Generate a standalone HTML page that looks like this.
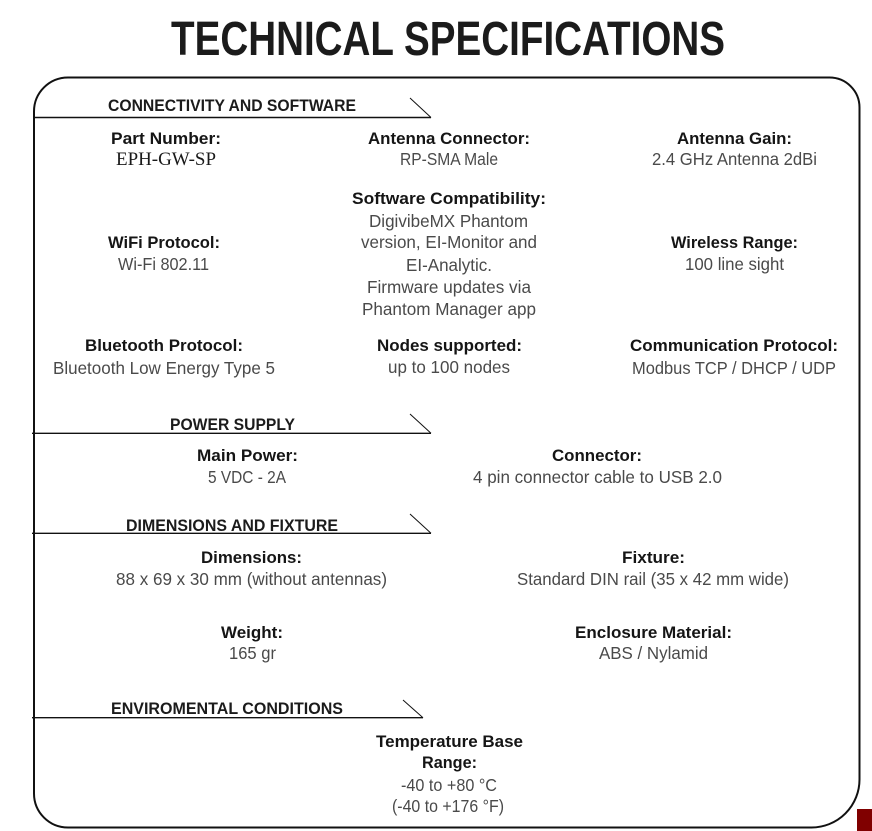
<!DOCTYPE html>
<html>
<head>
<meta charset="utf-8">
<style>
  html, body { margin:0; padding:0; background:#fff; }
  body { width:872px; height:831px; overflow:hidden; position:relative; }
  svg { position:absolute; left:0; top:0; }
  .t { font-family:"Liberation Sans", Arial, sans-serif; font-weight:bold; font-size:48px; fill:#1b1b1b; }
  .h { font-family:"Liberation Sans", Arial, sans-serif; font-weight:bold; font-size:17px; fill:#1b1b1b; }
  .l { font-family:"Liberation Sans", Arial, sans-serif; font-weight:bold; font-size:17px; fill:#151515; }
  .v { font-family:"Liberation Sans", Arial, sans-serif; font-weight:normal; font-size:17.5px; fill:#4a4a4a; }
  .s { font-family:"Liberation Serif", "Times New Roman", serif; font-weight:normal; font-size:18.5px; fill:#1a1a1a; }
</style>
</head>
<body>
<svg width="872" height="831" viewBox="0 0 872 831" xmlns="http://www.w3.org/2000/svg">
  <rect x="0" y="0" width="872" height="831" fill="#ffffff"/>

  <!-- Title -->
  <text class="t" x="171" y="55" textLength="554" lengthAdjust="spacingAndGlyphs">TECHNICAL SPECIFICATIONS</text>

  <!-- Main rounded box -->
  <path d="M 68 77.5 L 829.5 77.5 A 30 30 0 0 1 859.5 107.5 L 859.5 779.5 A 48 48 0 0 1 811.5 827.5 L 68 827.5 A 34 34 0 0 1 34 793.5 L 34 111.5 A 34 34 0 0 1 68 77.5 Z"
        fill="none" stroke="#111" stroke-width="2"/>

  <!-- Red square -->
  <rect x="857" y="809" width="15" height="22" fill="#800000"/>

  <!-- Section lines -->
  <g stroke="#111" fill="none">
    <line x1="33" y1="117.5" x2="431" y2="117.5" stroke-width="1.4"/>
    <line x1="410" y1="98" x2="431" y2="117.5" stroke-width="1"/>
    <line x1="32" y1="433.3" x2="431" y2="433.3" stroke-width="1.4"/>
    <line x1="410" y1="414" x2="431" y2="433.3" stroke-width="1"/>
    <line x1="32" y1="533.3" x2="431" y2="533.3" stroke-width="1.4"/>
    <line x1="410" y1="514" x2="431" y2="533.3" stroke-width="1"/>
    <line x1="32" y1="717.7" x2="423" y2="717.7" stroke-width="1.4"/>
    <line x1="403" y1="700" x2="423" y2="717.7" stroke-width="1"/>
  </g>

  <!-- Section headers -->
  <text class="h" x="108" y="111" textLength="248" lengthAdjust="spacingAndGlyphs">CONNECTIVITY AND SOFTWARE</text>
  <text class="h" x="170" y="430" textLength="125" lengthAdjust="spacingAndGlyphs">POWER SUPPLY</text>
  <text class="h" x="126" y="531" textLength="212" lengthAdjust="spacingAndGlyphs">DIMENSIONS AND FIXTURE</text>
  <text class="h" x="111" y="714" textLength="232" lengthAdjust="spacingAndGlyphs">ENVIROMENTAL CONDITIONS</text>

  <!-- Labels -->
  <text class="l" x="111" y="144" textLength="110" lengthAdjust="spacingAndGlyphs">Part Number:</text>
  <text class="l" x="368" y="144" textLength="162" lengthAdjust="spacingAndGlyphs">Antenna Connector:</text>
  <text class="l" x="677" y="144" textLength="115" lengthAdjust="spacingAndGlyphs">Antenna Gain:</text>
  <text class="l" x="352" y="204" textLength="194" lengthAdjust="spacingAndGlyphs">Software Compatibility:</text>
  <text class="l" x="108" y="248" textLength="112" lengthAdjust="spacingAndGlyphs">WiFi Protocol:</text>
  <text class="l" x="671" y="248" textLength="127" lengthAdjust="spacingAndGlyphs">Wireless Range:</text>
  <text class="l" x="85" y="351" textLength="158" lengthAdjust="spacingAndGlyphs">Bluetooth Protocol:</text>
  <text class="l" x="377" y="351" textLength="145" lengthAdjust="spacingAndGlyphs">Nodes supported:</text>
  <text class="l" x="630" y="351" textLength="208" lengthAdjust="spacingAndGlyphs">Communication Protocol:</text>
  <text class="l" x="197" y="461" textLength="101" lengthAdjust="spacingAndGlyphs">Main Power:</text>
  <text class="l" x="552" y="461" textLength="90" lengthAdjust="spacingAndGlyphs">Connector:</text>
  <text class="l" x="201" y="563" textLength="101" lengthAdjust="spacingAndGlyphs">Dimensions:</text>
  <text class="l" x="622" y="563" textLength="63" lengthAdjust="spacingAndGlyphs">Fixture:</text>
  <text class="l" x="221" y="638" textLength="62" lengthAdjust="spacingAndGlyphs">Weight:</text>
  <text class="l" x="575" y="638" textLength="157" lengthAdjust="spacingAndGlyphs">Enclosure Material:</text>
  <text class="l" x="376" y="747" textLength="147" lengthAdjust="spacingAndGlyphs">Temperature Base</text>
  <text class="l" x="422" y="768" textLength="55" lengthAdjust="spacingAndGlyphs">Range:</text>

  <!-- Values -->
  <text class="s" x="116" y="165" textLength="100" lengthAdjust="spacingAndGlyphs">EPH-GW-SP</text>
  <text class="v" x="400" y="165" textLength="98" lengthAdjust="spacingAndGlyphs">RP-SMA Male</text>
  <text class="v" x="652" y="165" textLength="165" lengthAdjust="spacingAndGlyphs">2.4 GHz Antenna 2dBi</text>
  <text class="v" x="369" y="227" textLength="159" lengthAdjust="spacingAndGlyphs">DigivibeMX Phantom</text>
  <text class="v" x="361" y="248" textLength="176" lengthAdjust="spacingAndGlyphs">version, EI-Monitor and</text>
  <text class="v" x="406" y="271" textLength="86" lengthAdjust="spacingAndGlyphs">EI-Analytic.</text>
  <text class="v" x="367" y="293" textLength="164" lengthAdjust="spacingAndGlyphs">Firmware updates via</text>
  <text class="v" x="362" y="315" textLength="174" lengthAdjust="spacingAndGlyphs">Phantom Manager app</text>
  <text class="v" x="118" y="270" textLength="91" lengthAdjust="spacingAndGlyphs">Wi-Fi 802.11</text>
  <text class="v" x="685" y="270" textLength="99" lengthAdjust="spacingAndGlyphs">100 line sight</text>
  <text class="v" x="53" y="374" textLength="222" lengthAdjust="spacingAndGlyphs">Bluetooth Low Energy Type 5</text>
  <text class="v" x="388" y="373" textLength="122" lengthAdjust="spacingAndGlyphs">up to 100 nodes</text>
  <text class="v" x="632" y="374" textLength="204" lengthAdjust="spacingAndGlyphs">Modbus TCP / DHCP / UDP</text>
  <text class="v" x="208" y="483" textLength="78" lengthAdjust="spacingAndGlyphs">5 VDC - 2A</text>
  <text class="v" x="473" y="483" textLength="249" lengthAdjust="spacingAndGlyphs">4 pin connector cable to USB 2.0</text>
  <text class="v" x="116" y="585" textLength="271" lengthAdjust="spacingAndGlyphs">88 x 69 x 30 mm (without antennas)</text>
  <text class="v" x="517" y="585" textLength="272" lengthAdjust="spacingAndGlyphs">Standard DIN rail (35 x 42 mm wide)</text>
  <text class="v" x="229" y="659" textLength="47" lengthAdjust="spacingAndGlyphs">165 gr</text>
  <text class="v" x="599" y="659" textLength="109" lengthAdjust="spacingAndGlyphs">ABS / Nylamid</text>
  <text class="v" x="401" y="791" textLength="96" lengthAdjust="spacingAndGlyphs">-40 to +80 °C</text>
  <text class="v" x="392" y="812" textLength="112" lengthAdjust="spacingAndGlyphs">(-40 to +176 °F)</text>
</svg>
</body>
</html>
